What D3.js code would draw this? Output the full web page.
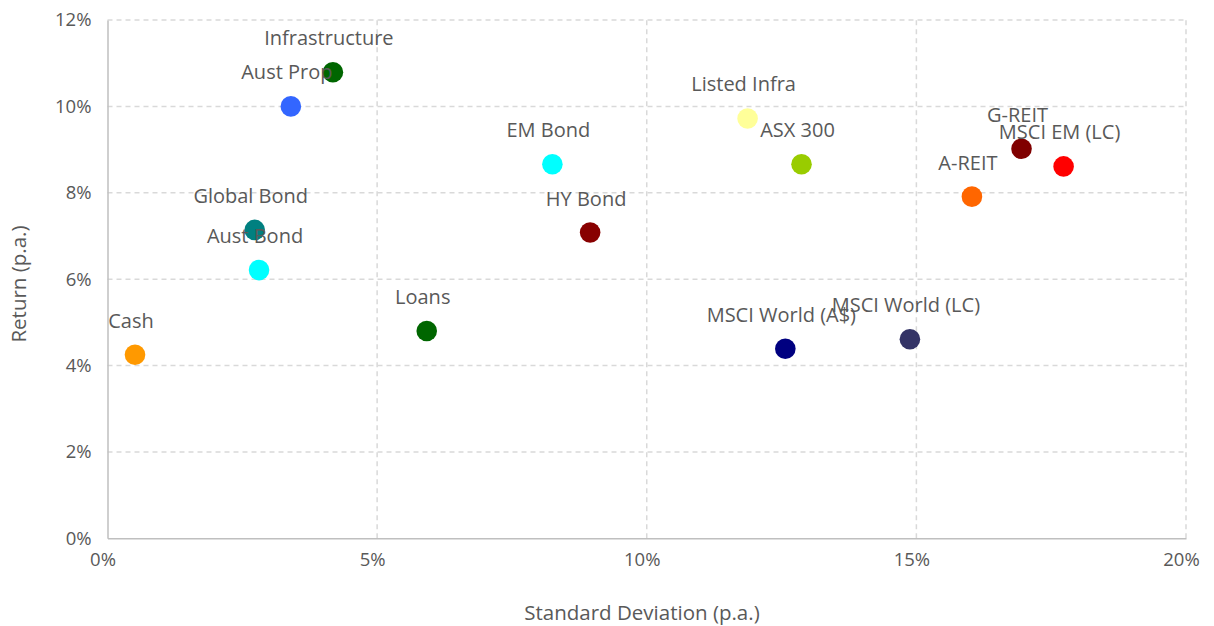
<!DOCTYPE html>
<html>
<head>
<meta charset="utf-8">
<script src="https://cdn.jsdelivr.net/npm/d3@7"></script>
<style>
  body { margin: 0; background: #fff; }
  text { font-family: "Open Sans", "Noto Sans", sans-serif; fill: #595959; }
</style>
</head>
<body>
<svg width="1214" height="626"></svg>
<script>
// asset classes
var names = ["Infrastructure", "Aust Prop", "Global Bond", "Aust Bond", "Cash", "Loans",
  "EM Bond", "HY Bond", "Listed Infra", "ASX 300", "MSCI World (A$)", "MSCI World (LC)",
  "G-REIT", "MSCI EM (LC)", "A-REIT"];
// standard deviation (%)
var stdev = [4.18, 3.40, 2.73, 2.81, 0.51, 5.92, 8.25, 8.95, 11.87, 12.87, 12.57, 14.88, 16.95, 17.73, 16.03];
// return (%)
var returns = [10.79, 10.0, 7.14, 6.21, 4.25, 4.80, 8.66, 7.08, 9.72, 8.66, 4.39, 4.61, 9.02, 8.61, 7.91];
var colors = ["#006600", "#3366ff", "#008080", "#00ffff", "#ff9900", "#006600",
  "#00ffff", "#880000", "#ffff99", "#99cc00", "#000080", "#333366",
  "#800000", "#ff0000", "#ff6600"];

var xTicks = [0, 5, 10, 15, 20];
var yTicks = [0, 2, 4, 6, 8, 10, 12];

var svg = d3.select("svg");
var margin = { left: 107.5, right: 1186, top: 20, bottom: 538.3 };

var xScale = d3.scaleLinear().domain([0, 20]).range([margin.left, margin.right]);
var yScale = d3.scaleLinear().domain([0, 12]).range([margin.bottom, margin.top]);

// grid lines
svg.append("g")
  .selectAll("line.gx")
  .data(xTicks.slice(1))
  .enter().append("line")
  .attr("x1", function (d) { return xScale(d); })
  .attr("x2", function (d) { return xScale(d); })
  .attr("y1", yScale(0)).attr("y2", yScale(12))
  .attr("stroke", "#d9d9d9").attr("stroke-width", 1.5).attr("stroke-dasharray", "5,4");

svg.append("g")
  .selectAll("line.gy")
  .data(yTicks.slice(1))
  .enter().append("line")
  .attr("y1", function (d) { return yScale(d); })
  .attr("y2", function (d) { return yScale(d); })
  .attr("x1", xScale(0)).attr("x2", xScale(20))
  .attr("stroke", "#d9d9d9").attr("stroke-width", 1.5).attr("stroke-dasharray", "5,4");

// axes
var xAxis = d3.axisBottom(xScale).tickValues(xTicks).tickSize(0)
  .tickFormat(function (d) { return d + "%"; });
var gx = svg.append("g").attr("transform", "translate(0," + yScale(0) + ")").call(xAxis);
gx.select(".domain").attr("stroke", "#bfbfbf").attr("stroke-width", 1.5);
gx.selectAll("text").attr("font-size", "18.5px").attr("dy", "0").attr("y", 28)
  .attr("dx", "-5px");

var yAxis = d3.axisLeft(yScale).tickValues(yTicks).tickSize(0)
  .tickFormat(function (d) { return d + "%"; });
var gy = svg.append("g").attr("transform", "translate(" + xScale(0) + ",0)").call(yAxis);
gy.select(".domain").attr("stroke", "#bfbfbf").attr("stroke-width", 1.5);
gy.selectAll("text").attr("font-size", "18.5px").attr("x", -16).attr("dy", "0.32em");

// axis titles
svg.append("text")
  .attr("x", 642).attr("y", 620)
  .attr("text-anchor", "middle")
  .attr("font-size", "20.5px")
  .text("Standard Deviation (p.a.)");

svg.append("text")
  .attr("transform", "translate(26,284) rotate(-90)")
  .attr("text-anchor", "middle")
  .attr("font-size", "20.5px")
  .text("Return (p.a.)");

// points
svg.append("g").selectAll("circle")
  .data(names)
  .enter().append("circle")
  .attr("cx", function (d, i) { return xScale(stdev[i]); })
  .attr("cy", function (d, i) { return yScale(returns[i]); })
  .attr("r", 10.3)
  .attr("fill", function (d, i) { return colors[i]; });

// labels
svg.append("g").selectAll("text")
  .data(names)
  .enter().append("text")
  .attr("x", function (d, i) { return xScale(stdev[i]) - 4; })
  .attr("y", function (d, i) { return yScale(returns[i]) - 27; })
  .attr("text-anchor", "middle")
  .attr("font-size", "20px")
  .text(function (d) { return d; });
</script>
</body>
</html>
